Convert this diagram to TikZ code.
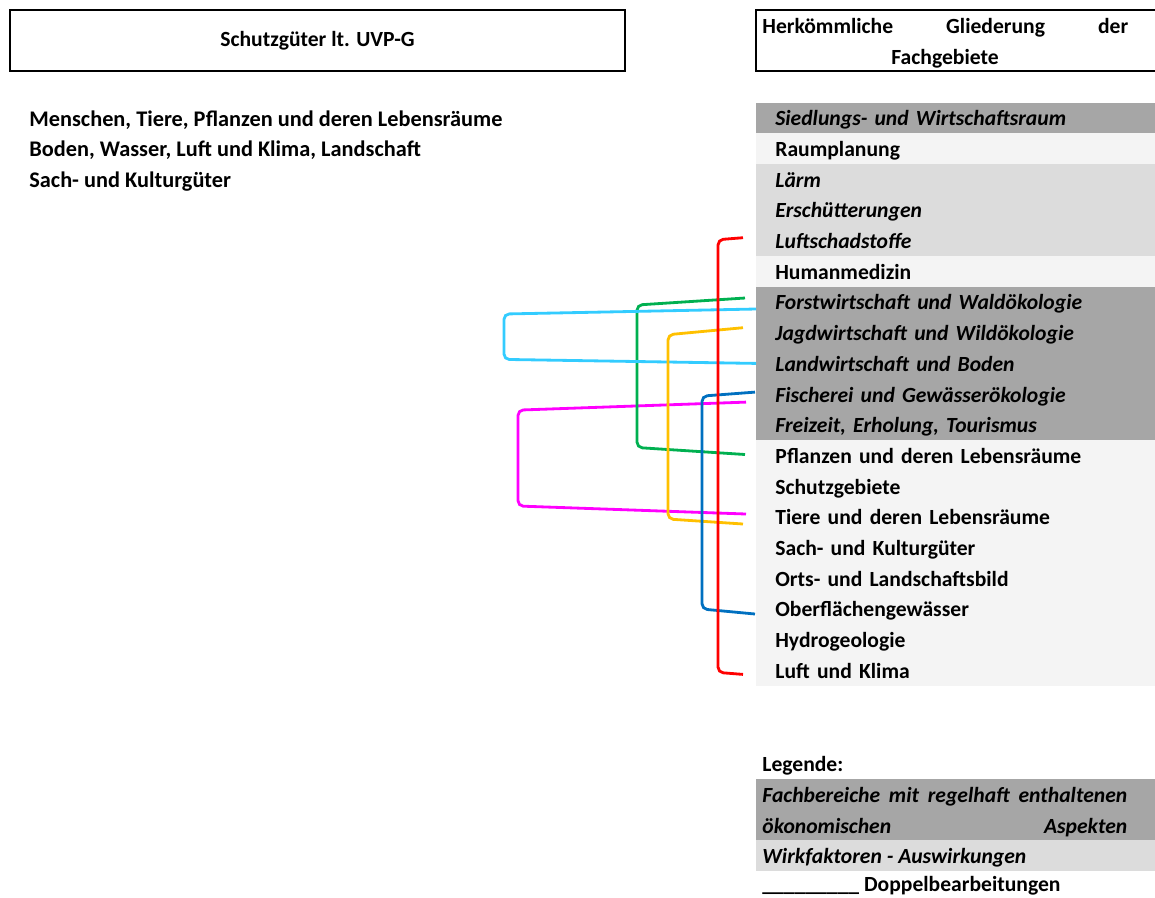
\documentclass[tikz,border=0pt]{standalone}
\usepackage{fontspec}
\setmainfont{Carlito}
\usetikzlibrary{calc}

\definecolor{grayA}{HTML}{A6A6A6}
\definecolor{grayB}{HTML}{DCDCDC}
\definecolor{grayC}{HTML}{F4F4F4}
\definecolor{brRed}{HTML}{FF0000}
\definecolor{brGreen}{HTML}{00B050}
\definecolor{brCyan}{HTML}{33CCFF}
\definecolor{brYellow}{HTML}{FFC000}
\definecolor{brBlue}{HTML}{0070C0}
\definecolor{brMagenta}{HTML}{FF00FF}

\newcommand\fachfont{\fontsize{12.3pt}{17.6pt}\selectfont\bfseries}

\tikzset{
  rowbox/.style={anchor=west, minimum height=0.62cm, inner ysep=0pt,
    inner xsep=0.38cm, text width=7.22cm, align=left,
    text height=10pt, text depth=1pt},
  econrow/.style={rowbox, fill=grayA, font=\fachfont\itshape},
  effectrow/.style={rowbox, fill=grayB, font=\fachfont\itshape},
  plainrow/.style={rowbox, fill=grayC},
  lefttext/.style={anchor=west, inner sep=0pt, text height=10pt, text depth=1pt},
  bracket/.style={line width=1.6pt, rounded corners=3pt, #1}
}

\begin{document}
\begin{tikzpicture}[x=0.02cm, y=-0.02cm, font=\fachfont]
    \useasboundingbox (0,0) rectangle (1155,897);

    % headers
    \node[draw, line width=0.8pt, minimum width=12.3cm, minimum height=1.22cm]
        (hdSchutz) at (317.5,40.5) {Schutzgüter lt. UVP-G};
    \draw[line width=0.8pt] (1180,10) -- (756,10) -- (756,71) -- (1180,71);
    \node[lefttext] (hdFachA) at (762,26)
        {\makebox[7.32cm][s]{Herkömmliche Gliederung der}};
    \node[lefttext, anchor=center] (hdFachB) at (945,57) {Fachgebiete};

    % Schutzgueter
    \begin{scope}[font=\fontsize{12.7pt}{17.6pt}\selectfont\bfseries]
    \node[lefttext] (lMenschen) at (29,119) {Menschen, Tiere, Pflanzen und deren Lebensräume};
    \node[lefttext] (lBoden) at (29,149) {Boden, Wasser, Luft und Klima, Landschaft};
    \node[lefttext] (lSach) at (29,180) {Sach- und Kulturgüter};
    \end{scope}

    % Fachgebiete
    \node[econrow] (rSiedlung) at (756,118) {Siedlungs- und Wirtschaftsraum};
    \node[plainrow] (rRaum) at (756,148.5) {Raumplanung};
    \node[effectrow] (rLaerm) at (756,179.3) {Lärm};
    \node[effectrow] (rErsch) at (756,210) {Erschütterungen};
    \node[effectrow] (rLuftschad) at (756,240.7) {Luftschadstoffe};
    \node[plainrow] (rHuman) at (756,271.4) {Humanmedizin};
    \node[econrow] (rForst) at (756,302) {Forstwirtschaft und Waldökologie};
    \node[econrow] (rJagd) at (756,332.7) {Jagdwirtschaft und Wildökologie};
    \node[econrow] (rLandw) at (756,363.4) {Landwirtschaft und Boden};
    \node[econrow] (rFisch) at (756,394.1) {Fischerei und Gewässerökologie};
    \node[econrow] (rFreizeit) at (756,424.8) {Freizeit, Erholung, Tourismus};
    \node[plainrow] (rPflanzen) at (756,455.5) {Pflanzen und deren Lebensräume};
    \node[plainrow] (rSchutzgeb) at (756,486.2) {Schutzgebiete};
    \node[plainrow] (rTiere) at (756,517) {Tiere und deren Lebensräume};
    \node[plainrow] (rSachKultur) at (756,547.6) {Sach- und Kulturgüter};
    \node[plainrow] (rOrtsbild) at (756,578.3) {Orts- und Landschaftsbild};
    \node[plainrow] (rOberfl) at (756,609) {Oberflächengewässer};
    \node[plainrow] (rHydro) at (756,639.7) {Hydrogeologie};
    \node[plainrow] (rLuftklima) at (756,670.4) {Luft und Klima};

    % Doppelbearbeitungen
    \draw[bracket=brMagenta] ($(rFisch.west)+(-10,8)$) -- ++(-228,8)
        -- ($(rTiere.west)+(-238,-11)$) -- ++(228,8);
    \draw[bracket=brGreen] ($(rForst.west)+(-11,-4)$) -- ++(-108,7)
        -- ($(rPflanzen.west)+(-119,-8)$) -- ++(108,7);
    \draw[bracket=brCyan] ($(rForst.west)+(0,7)$) -- ++(-252,5)
        -- ($(rLandw.west)+(-252,-4)$) -- ++(252,4);
    \draw[bracket=brYellow] ($(rJagd.west)+(-13,-5)$) -- ++(-75,7)
        -- ($(rTiere.west)+(-88,2)$) -- ++(75,5);
    \draw[bracket=brBlue] ($(rFisch.west)+(-1,-2)$) -- ++(-53,4)
        -- ($(rOberfl.west)+(-54,0)$) -- ++(53,5);
    \draw[bracket=brRed] ($(rLuftschad.west)+(-13,-3)$) -- ++(-25,2)
        -- ($(rLuftklima.west)+(-38,2)$) -- ++(25,2);

    % Legende
    \node[lefttext] (lgTitel) at (762,764) {Legende:};
    \fill[grayA] (756,779) rectangle (1155,840);
    \node[lefttext, font=\fachfont\itshape] (lgOekoA) at (762,795)
        {\makebox[7.3cm][s]{Fachbereiche mit regelhaft enthaltenen}};
    \node[lefttext, font=\fachfont\itshape] (lgOekoB) at (762,826)
        {\makebox[7.3cm][s]{ökonomischen Aspekten}};
    \fill[grayB] (756,840) rectangle (1155,871);
    \node[lefttext, font=\fachfont\itshape] (lgWirk) at (762,856) {Wirkfaktoren - Auswirkungen};
    \node[lefttext] (lgDoppel) at (762,884) {\_\_\_\_\_\_\_\_\_ Doppelbearbeitungen};
\end{tikzpicture}
\end{document}
